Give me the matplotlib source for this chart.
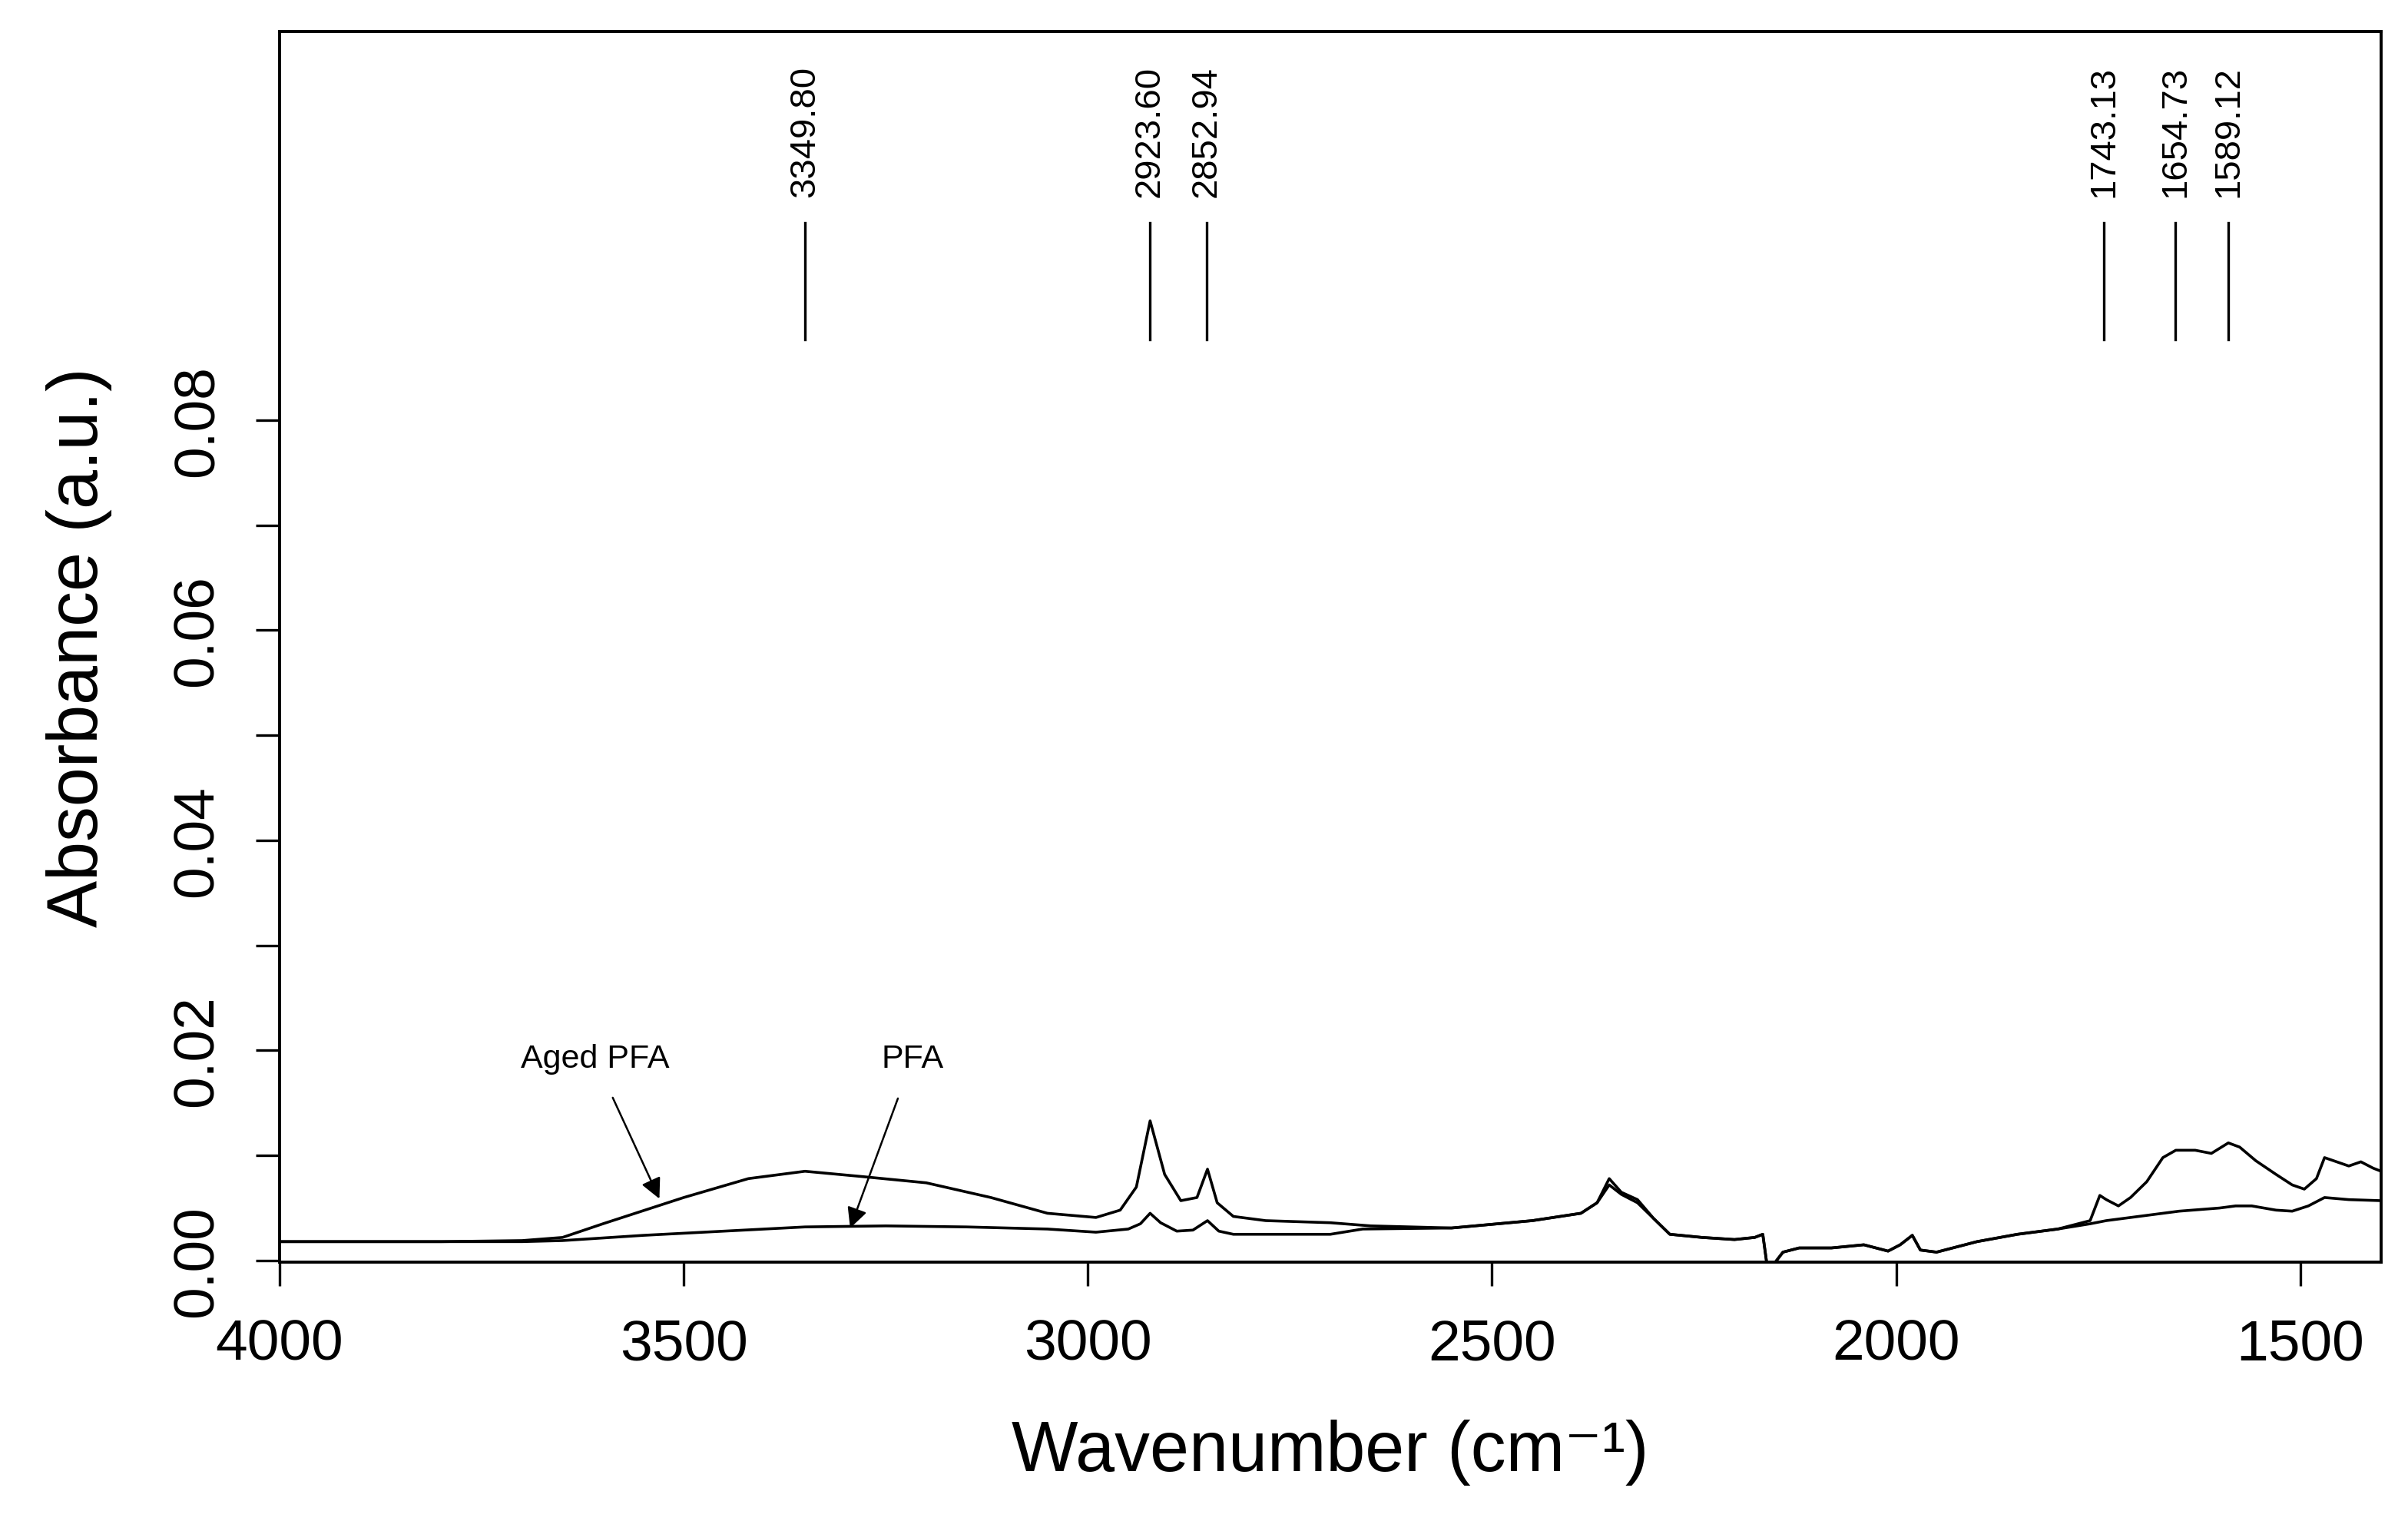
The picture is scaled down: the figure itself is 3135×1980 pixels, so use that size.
import matplotlib
matplotlib.use('Agg')
import numpy as np
from matplotlib import pyplot as plt

plt.rcParams['font.family'] = ['Liberation Sans', 'DejaVu Sans']

# spectra (wavenumber, absorbance)
aged_wn = [4000, 3800, 3700, 3650, 3600, 3500, 3420, 3350, 3280, 3200, 3120, 3050,
           2990, 2960, 2940, 2923, 2905, 2885, 2865, 2852, 2840, 2820, 2780, 2700,
           2650, 2550, 2450, 2390, 2370, 2355, 2340, 2320, 2300, 2280, 2240, 2200,
           2175, 2165, 2160, 2150, 2140, 2120, 2080, 2040, 2010, 1995, 1980, 1970,
           1950, 1900, 1850, 1800, 1760, 1748, 1740, 1725, 1710, 1690, 1670, 1654,
           1630, 1610, 1589, 1575, 1555, 1530, 1510, 1495, 1480, 1470, 1455, 1440,
           1425, 1410, 1400]
aged_ab = [0.0018, 0.0018, 0.0019, 0.0022, 0.0035, 0.0060, 0.0078, 0.0085, 0.0080,
           0.0074, 0.0060, 0.0045, 0.0041, 0.0048, 0.0070, 0.0133, 0.0082, 0.0057,
           0.0060, 0.0087, 0.0055, 0.0042, 0.0038, 0.0036, 0.0033, 0.0031, 0.0038,
           0.0045, 0.0055, 0.0078, 0.0065, 0.0058, 0.0040, 0.0025, 0.0022, 0.0020,
           0.0022, 0.0025, -0.0003, -0.0002, 0.0008, 0.0012, 0.0012, 0.0015, 0.0009,
           0.0015, 0.0024, 0.0010, 0.0008, 0.0018, 0.0025, 0.0030, 0.0038, 0.0062,
           0.0058, 0.0052, 0.0060, 0.0075, 0.0098, 0.0105, 0.0105, 0.0102, 0.0112,
           0.0108, 0.0095, 0.0082, 0.0072, 0.0068, 0.0078, 0.0098, 0.0094, 0.0090,
           0.0094, 0.0088, 0.0085]
pfa_wn = [4000, 3800, 3700, 3650, 3550, 3450, 3350, 3250, 3150, 3050, 2990, 2950,
          2935, 2923, 2910, 2890, 2870, 2852, 2838, 2820, 2700, 2660, 2550, 2450,
          2390, 2370, 2355, 2340, 2320, 2300, 2280, 2240, 2200, 2175, 2165, 2160,
          2150, 2140, 2120, 2080, 2040, 2010, 1995, 1980, 1970, 1950, 1900, 1850,
          1800, 1760, 1740, 1700, 1650, 1600, 1580, 1560, 1530, 1510, 1490, 1470,
          1440, 1400]
pfa_ab = [0.0018, 0.0018, 0.0018, 0.0019, 0.0024, 0.0028, 0.0032, 0.0033, 0.0032,
          0.0030, 0.0027, 0.0030, 0.0035, 0.0045, 0.0036, 0.0028, 0.0029, 0.0038,
          0.0028, 0.0025, 0.0025, 0.0030, 0.0031, 0.0038, 0.0045, 0.0055, 0.0072,
          0.0063, 0.0055, 0.0040, 0.0025, 0.0022, 0.0020, 0.0022, 0.0025, -0.0003,
          -0.0002, 0.0008, 0.0012, 0.0012, 0.0015, 0.0009, 0.0015, 0.0024, 0.0010,
          0.0008, 0.0018, 0.0025, 0.0030, 0.0035, 0.0038, 0.0042, 0.0047, 0.0050,
          0.0052, 0.0052, 0.0048, 0.0047, 0.0052, 0.0060, 0.0058, 0.0057]

peaks = [3349.80, 2923.60, 2852.94, 1743.13, 1654.73, 1589.12]

fig = plt.figure(figsize=(31.35, 19.81), dpi=100)
ax = fig.add_axes([364 / 3135, 1 - 1644 / 1981, (3100 - 364) / 3135, (1644 - 42) / 1981])

ax.plot(aged_wn, aged_ab, color='black', lw=2.6)
ax.plot(pfa_wn, pfa_ab, color='black', lw=2.6)

for p in peaks:
    ax.plot([p, p], [0.0877, 0.0988], color='black', lw=2.4)
    ax.text(p, 0.1013, f'{p:.2f}', rotation=90, ha='center', va='bottom', fontsize=34)

arrow = dict(arrowstyle='-|>', color='black', lw=1.8, mutation_scale=40)
ax.annotate('Aged PFA', xy=(3529, 0.0057), xytext=(3610, 0.0192), ha='center', va='center',
            fontsize=31, arrowprops=dict(arrow, shrinkA=22))
ax.annotate('PFA', xy=(3295, 0.0029), xytext=(3217, 0.0192), ha='center', va='center',
            fontsize=31, arrowprops=dict(arrow, shrinkA=22))

ax.set_xlim(4000, 1400)
ax.set_ylim(-0.00015, 0.117)
ax.set_xticks([4000, 3500, 3000, 2500, 2000, 1500])
ax.set_yticks(np.arange(0, 0.081, 0.01))
ax.set_yticklabels(['0.00', '', '0.02', '', '0.04', '', '0.06', '', '0.08'])
ax.tick_params(axis='both', direction='out', length=22, width=2.4, labelsize=54)
ax.tick_params(axis='x', pad=30)
ax.tick_params(axis='y', pad=30)
plt.setp(ax.get_yticklabels(), rotation=90, va='center')
for s in ax.spines.values():
    s.set_linewidth(2.8)

ax.set_xlabel('Wavenumber (cm\u207b\u00b9)', fontsize=66, labelpad=45)
ax.set_ylabel('Absorbance (a.u.)', fontsize=66, labelpad=55)

fig.savefig('out.png', dpi=100)
